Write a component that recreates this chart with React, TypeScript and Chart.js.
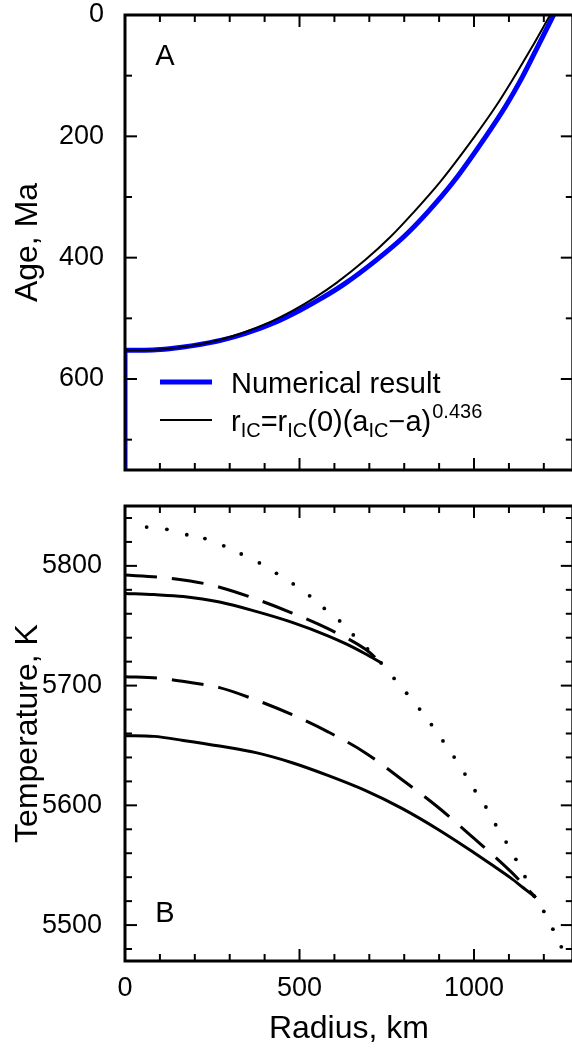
import React, { useEffect, useRef } from "react";
import { Chart, registerables } from "chart.js";
Chart.register(...registerables);

const FONT = '"Liberation Sans", Arial, Helvetica, sans-serif';

// ---------- Panel A: age vs inner-core radius ----------
const A_FIT_RADIUS = [0, 78, 125, 192, 267, 332, 420, 482, 544, 605, 688, 760, 824, 903, 1002, 1063, 1110, 1164, 1218];
const A_FIT_AGE = [553, 552, 550, 545, 536, 525, 505, 487, 466, 442, 404, 366, 327, 275, 200, 150, 107, 55, 0];
const A_NUM_RADIUS = [0, 80, 127, 195, 277, 345, 436, 500, 566, 632, 720, 798, 864, 941, 1034, 1091, 1134, 1180, 1228];
const A_NUM_AGE = [552.5, 552, 550, 545, 536, 525, 505, 487, 466, 442, 404, 366, 327, 275, 200, 150, 107, 55, 0];
const A_NUM_STEM_RADIUS = [0, 0];
const A_NUM_STEM_AGE = [750, 552.5];
const A_TICKS_MAJOR = [0, 200, 400, 600];
const A_TICKS_MINOR = [100, 300, 500, 700];

// ---------- Panel B: temperature vs radius ----------
const B_DOT_R = [62, 120, 177, 229, 283, 333, 385, 434, 482, 529, 571, 615, 654, 695, 734, 771, 807, 844, 878, 911, 943, 974, 1003, 1034, 1062, 1092, 1120, 1146, 1172, 1200, 1226, 1250];
const B_DOT_T = [5832.4, 5830.5, 5826, 5822.8, 5816.7, 5809.9, 5802.5, 5793.8, 5784.9, 5775, 5764.5, 5754, 5742.3, 5730.6, 5718.9, 5706, 5693.6, 5680.4, 5667.4, 5653.8, 5640.3, 5626.1, 5612.2, 5598.6, 5583.8, 5569.3, 5554.9, 5540.4, 5524.3, 5511.4, 5496.6, 5481.8];
const B_UP_SOLID_R = [0, 83, 167, 271, 375, 479, 583, 635, 688, 734];
const B_UP_SOLID_T = [5777, 5776, 5774.4, 5769.8, 5762, 5752.8, 5741.4, 5734.6, 5726.6, 5719];
const B_UP_DASH_R = [0, 94, 187, 271, 375, 479, 583, 688, 734];
const B_UP_DASH_T = [5792.3, 5790.7, 5787.4, 5782.2, 5772.3, 5760.6, 5747.3, 5730.5, 5719];
const B_LO_SOLID_R = [0, 83, 167, 271, 375, 479, 583, 688, 792, 896, 1000, 1050, 1104, 1140, 1177];
const B_LO_SOLID_T = [5658.2, 5657.6, 5654.2, 5649.5, 5644, 5635.6, 5624.8, 5612.5, 5597.7, 5580.1, 5560.5, 5550.6, 5539.6, 5531.4, 5523];
const B_LO_DASH_R = [0, 94, 187, 271, 375, 479, 583, 688, 792, 896, 1000, 1104, 1177];
const B_LO_DASH_T = [5707.5, 5706.3, 5702.6, 5698.3, 5688, 5675.7, 5661.2, 5644, 5621.8, 5598.6, 5572.4, 5545, 5523];
const T_TICKS_MAJOR = [5500, 5600, 5700, 5800];
const T_TICKS_MINOR = [5480, 5520, 5540, 5560, 5580, 5620, 5640, 5660, 5680, 5720, 5740, 5760, 5780, 5820, 5840];

// ---------- shared x axis ----------
const R_TICKS_MAJOR = [0, 500, 1000];
const R_TICKS_MINOR = [100, 200, 300, 400, 600, 700, 800, 900, 1100, 1200];
const R_MAX = 1283;

const CANVAS_W = 580;
const PLOT_RIGHT = 572.8;

const pts = (xs: number[], ys: number[]) => xs.map((x, i) => ({ x, y: ys[i] }));

function framePlugin(xMaj: number[], xMin: number[], yMaj: number[], yMin: number[], extra: (ctx: CanvasRenderingContext2D, chart: any) => void) {
  return {
    id: "frame",
    afterDatasetsDraw(chart: any) {
      const { ctx, chartArea: ca, scales } = chart;
      const xs = scales.x, ys = scales.y;
      ctx.save();
      ctx.strokeStyle = "#000";
      ctx.lineCap = "butt";
      ctx.lineWidth = 2;
      const seg = (x1: number, y1: number, x2: number, y2: number) => {
        ctx.beginPath(); ctx.moveTo(x1, y1); ctx.lineTo(x2, y2); ctx.stroke();
      };
      const tx = (v: number, len: number) => {
        const p = xs.getPixelForValue(v);
        seg(p, ca.bottom, p, ca.bottom - len);
        seg(p, ca.top, p, ca.top + len);
      };
      const ty = (v: number, len: number) => {
        const p = ys.getPixelForValue(v);
        seg(ca.left, p, ca.left + len, p);
        seg(ca.right, p, ca.right - len, p);
      };
      xMaj.forEach((v) => tx(v, 12));
      xMin.forEach((v) => tx(v, 7));
      yMaj.forEach((v) => ty(v, 12));
      yMin.forEach((v) => ty(v, 7));
      ctx.lineWidth = 3;
      ctx.strokeRect(ca.left, ca.top, ca.right - ca.left, ca.bottom - ca.top);
      extra(ctx, chart);
      ctx.restore();
    },
  };
}

const noPadY = (w: number) => (s: any) => {
  s.width = w;
  s.paddingTop = 0;
  s.paddingBottom = 0;
};
const noPadX = (h: number) => (s: any) => {
  s.height = h;
  s.paddingLeft = 0;
  s.paddingRight = 0;
};
const plain = (v: any) => String(v);

function useChartA(ref: React.RefObject<HTMLCanvasElement>) {
  useEffect(() => {
    if (!ref.current) return;
    const legendExtra = (ctx: CanvasRenderingContext2D) => {
      ctx.fillStyle = "#000";
      ctx.textBaseline = "middle";
      ctx.textAlign = "center";
      ctx.font = `29px ${FONT}`;
      ctx.fillText("A", 165, 57);
      // legend
      ctx.lineWidth = 5;
      ctx.strokeStyle = "#0000ff";
      ctx.beginPath(); ctx.moveTo(160, 382); ctx.lineTo(212, 382); ctx.stroke();
      ctx.lineWidth = 2;
      ctx.strokeStyle = "#000";
      ctx.beginPath(); ctx.moveTo(160, 420); ctx.lineTo(212, 420); ctx.stroke();
      ctx.textAlign = "left";
      ctx.textBaseline = "alphabetic";
      ctx.font = `29px ${FONT}`;
      ctx.fillText("Numerical result", 231, 393);
      const base = 431;
      let x = 231;
      const parts: [string, string][] = [
        ["n", "r"], ["sub", "IC"], ["n", "=r"], ["sub", "IC"], ["n", "(0)(a"], ["sub", "IC"], ["n", "\u2212a)"], ["sup", "0.436"],
      ];
      for (const [kind, t] of parts) {
        if (kind === "n") {
          ctx.font = `29px ${FONT}`;
          ctx.fillText(t, x, base);
        } else if (kind === "sub") {
          ctx.font = `20px ${FONT}`;
          ctx.fillText(t, x, base + 6);
        } else {
          ctx.font = `20px ${FONT}`;
          ctx.fillText(t, x + 1, base - 13);
        }
        x += ctx.measureText(t).width;
      }
    };
    const chart = new Chart(ref.current, {
      type: "scatter",
      data: {
        datasets: [
          {
            label: "fit",
            data: pts(A_FIT_RADIUS, A_FIT_AGE),
            showLine: true,
            borderColor: "#000",
            borderWidth: 2,
            pointRadius: 0,
            cubicInterpolationMode: "monotone",
          },
          {
            label: "Numerical result",
            data: pts(A_NUM_RADIUS, A_NUM_AGE),
            showLine: true,
            borderColor: "#0000ff",
            borderWidth: 5,
            pointRadius: 0,
            cubicInterpolationMode: "monotone",
          },
          {
            label: "Numerical stem",
            data: pts(A_NUM_STEM_RADIUS, A_NUM_STEM_AGE),
            showLine: true,
            borderColor: "#0000ff",
            borderWidth: 5,
            pointRadius: 0,
            tension: 0,
          },
        ],
      } as any,
      options: {
        animation: false,
        responsive: false,
        devicePixelRatio: 1,
        layout: { padding: { left: 0, top: 15, right: CANVAS_W - PLOT_RIGHT, bottom: 0 } },
        plugins: { legend: { display: false }, tooltip: { enabled: false } },
        scales: {
          x: {
            type: "linear",
            min: 0,
            max: R_MAX,
            grid: { display: false, drawTicks: false, tickLength: 0 },
            border: { display: false },
            ticks: { display: false },
            afterFit: noPadX(10),
          },
          y: {
            type: "linear",
            reverse: true,
            min: 0,
            max: 750,
            grid: { display: false, drawTicks: false, tickLength: 0 },
            border: { display: false },
            ticks: { color: "#000", padding: 21, font: { family: FONT, size: 27 }, callback: plain },
            title: { display: true, text: "Age, Ma", color: "#000", font: { family: FONT, size: 32 }, padding: { top: 9, bottom: 0 } },
            afterBuildTicks: (s: any) => { s.ticks = A_TICKS_MAJOR.map((v) => ({ value: v })); },
            afterFit: noPadY(125),
          },
        },
      } as any,
      plugins: [framePlugin(R_TICKS_MAJOR, R_TICKS_MINOR, A_TICKS_MAJOR, A_TICKS_MINOR, legendExtra)],
    });
    return () => chart.destroy();
  }, []);
}

function useChartB(ref: React.RefObject<HTMLCanvasElement>) {
  useEffect(() => {
    if (!ref.current) return;
    const labelExtra = (ctx: CanvasRenderingContext2D) => {
      ctx.fillStyle = "#000";
      ctx.textBaseline = "middle";
      ctx.textAlign = "center";
      ctx.font = `29px ${FONT}`;
      ctx.fillText("B", 165, 914 - 480);
    };
    const line = (xs: number[], ys: number[], dash: number[]) => ({
      data: pts(xs, ys),
      showLine: true,
      borderColor: "#000",
      borderWidth: 3,
      borderDash: dash,
      pointRadius: 0,
      cubicInterpolationMode: "monotone",
    });
    const chart = new Chart(ref.current, {
      type: "scatter",
      data: {
        datasets: [
          { label: "upper solid", ...line(B_UP_SOLID_R, B_UP_SOLID_T, []) },
          { label: "upper dashed", ...line(B_UP_DASH_R, B_UP_DASH_T, [32, 15]) },
          { label: "lower solid", ...line(B_LO_SOLID_R, B_LO_SOLID_T, []) },
          { label: "lower dashed", ...line(B_LO_DASH_R, B_LO_DASH_T, [32, 15]) },
          {
            label: "dotted",
            data: pts(B_DOT_R, B_DOT_T),
            showLine: false,
            pointRadius: 1.9,
            pointBorderWidth: 0,
            pointBackgroundColor: "#000",
            pointBorderColor: "#000",
          },
        ],
      } as any,
      options: {
        animation: false,
        responsive: false,
        devicePixelRatio: 1,
        layout: { padding: { left: 0, top: 26, right: CANVAS_W - PLOT_RIGHT, bottom: 0 } },
        plugins: { legend: { display: false }, tooltip: { enabled: false } },
        scales: {
          x: {
            type: "linear",
            min: 0,
            max: R_MAX,
            grid: { display: false, drawTicks: false, tickLength: 0 },
            border: { display: false },
            ticks: { color: "#000", padding: 11, maxRotation: 0, font: { family: FONT, size: 27 }, callback: plain },
            title: { display: true, text: "Radius, km", color: "#000", font: { family: FONT, size: 32 }, padding: { top: 0, bottom: 0 } },
            afterBuildTicks: (s: any) => { s.ticks = R_TICKS_MAJOR.map((v) => ({ value: v })); },
            afterFit: noPadX(87),
          },
          y: {
            type: "linear",
            min: 5470,
            max: 5850,
            grid: { display: false, drawTicks: false, tickLength: 0 },
            border: { display: false },
            ticks: { color: "#000", padding: 23, font: { family: FONT, size: 27 }, callback: plain },
            title: { display: true, text: "Temperature, K", color: "#000", font: { family: FONT, size: 32 }, padding: { top: 9, bottom: 0 } },
            afterBuildTicks: (s: any) => { s.ticks = T_TICKS_MAJOR.map((v) => ({ value: v })); },
            afterFit: noPadY(125),
          },
        },
      } as any,
      plugins: [framePlugin(R_TICKS_MAJOR, R_TICKS_MINOR, T_TICKS_MAJOR, T_TICKS_MINOR, labelExtra)],
    });
    return () => chart.destroy();
  }, []);
}

export default function App() {
  const refA = useRef<HTMLCanvasElement>(null);
  const refB = useRef<HTMLCanvasElement>(null);
  useChartA(refA);
  useChartB(refB);
  return (
    <div style={{ position: "fixed", left: 0, top: 0, width: 572, height: 1048, overflow: "hidden", background: "#fff" }}>
      <canvas ref={refA} width={CANVAS_W} height={480} style={{ position: "absolute", left: 0, top: 0, width: CANVAS_W, height: 480 }} />
      <canvas ref={refB} width={CANVAS_W} height={568} style={{ position: "absolute", left: 0, top: 480, width: CANVAS_W, height: 568 }} />
    </div>
  );
}
